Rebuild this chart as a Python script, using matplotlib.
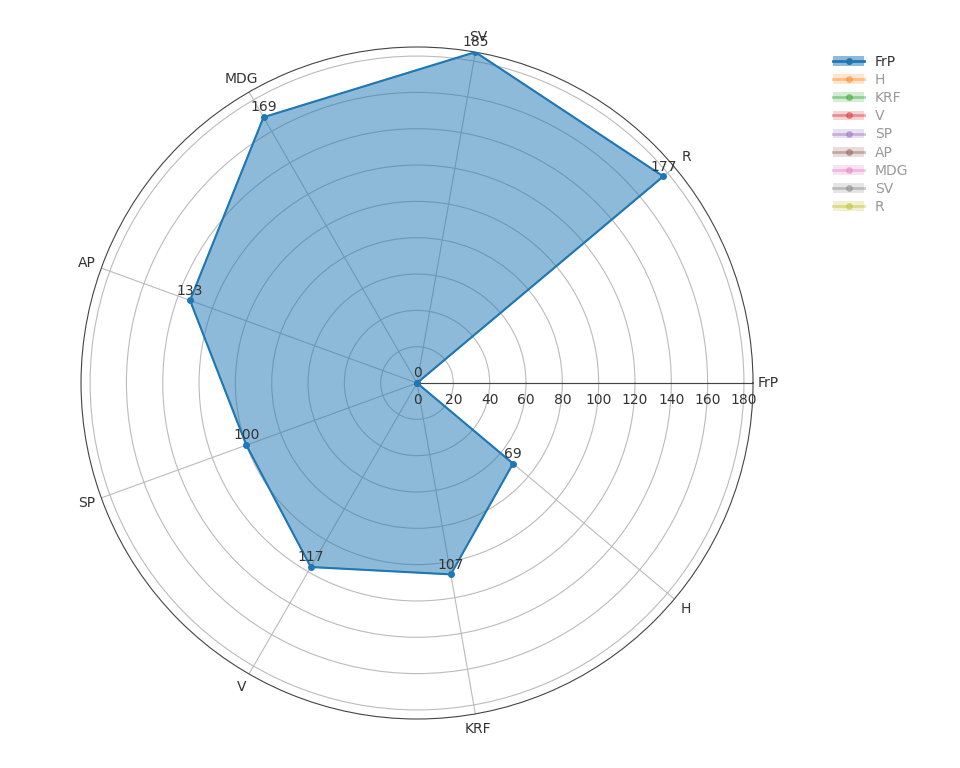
import numpy as np
import matplotlib.pyplot as plt
from matplotlib.lines import Line2D
from matplotlib.patches import Patch

categories = ['FrP', 'H', 'KRF', 'V', 'SP', 'AP', 'MDG', 'SV', 'R']
values = [0, 69, 107, 117, 100, 133, 169, 185, 177]
legend_names = ['FrP', 'H', 'KRF', 'V', 'SP', 'AP', 'MDG', 'SV', 'R']
colors = ['#1f77b4', '#ff7f0e', '#2ca02c', '#d62728', '#9467bd',
          '#8c564b', '#e377c2', '#7f7f7f', '#bcbd22']
rticks = list(range(0, 181, 20))
rmax = 185

fig = plt.figure(figsize=(9.6, 7.68), dpi=100)
ax = fig.add_axes([0.0844, 0.0638, 0.7, 0.875], projection='polar')
ax.set_theta_zero_location('E')
ax.set_theta_direction(-1)

theta = np.deg2rad(np.arange(len(categories)) * 40)
th = np.append(theta, theta[0])
vals = np.append(values, values[0])
ax.fill(th, vals, color=colors[0], alpha=0.5, zorder=3)
ax.plot(th, vals, color=colors[0], lw=1.5, marker='o', ms=4, zorder=4)
for t, v in zip(theta, values):
    ax.annotate(str(v), (t, v), xytext=(0, 7), textcoords='offset points',
                ha='center', va='center', fontsize=10, color='#333', zorder=5)

ax.set_ylim(0, rmax)
ax.set_yticks(rticks)
ax.set_yticklabels([])
ax.set_xticks(theta)
ax.set_xticklabels([])
ax.grid(True, color='#bbbbbb', lw=0.8)
ax.spines['polar'].set_color('#444444')
ax.spines['polar'].set_linewidth(0.8)
for r in rticks:
    ax.annotate(str(r), (0, r), xytext=(0, -12), textcoords='offset points',
                ha='center', va='center', fontsize=10, color='#333')
ax.plot([0, 0], [0, rmax], color='#444444', lw=0.8, zorder=2)
for t, c in zip(theta, categories):
    ax.text(t, rmax * 1.045, c, ha='center', va='center', fontsize=10, color='#333')

handles = []
for i, (n, c) in enumerate(zip(legend_names, colors)):
    a = 1.0 if i == 0 else 0.4
    handles.append((Patch(facecolor=c, alpha=0.5 * a if i else 0.5, edgecolor='none'),
                    Line2D([], [], color=c, alpha=a, marker='o', ms=4, lw=2)))
leg = fig.legend(handles, legend_names, loc='upper left', bbox_to_anchor=(0.855, 0.945),
                 frameon=False, fontsize=10, handlelength=2.2, labelspacing=0.3)
for i, t in enumerate(leg.get_texts()):
    t.set_color('#333' if i == 0 else '#999')

fig.savefig('out.png', dpi=100)
